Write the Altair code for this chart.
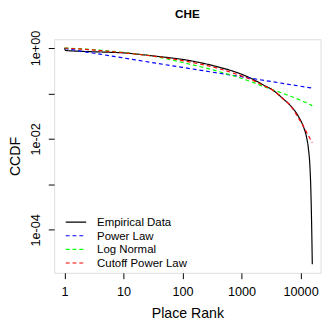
import altair as alt
import pandas as pd

series_names = ["Empirical Data", "Power Law", "Log Normal", "Cutoff Power Law"]
series_colors = ["#000000", "#0000FF", "#00FF00", "#FF0000"]

emp_x = [1, 1.04, 1.7, 3.65, 9.8, 35.8, 112, 351, 982, 1610, 2355, 3445, 5040, 6830, 9270, 11220, 12570, 13560, 14350, 14920, 15380, 15790]
emp_y = [1.0, 0.884, 0.850, 0.821, 0.782, 0.658, 0.548, 0.401, 0.267, 0.201, 0.153, 0.1166, 0.0766, 0.0529, 0.0307, 0.0183, 0.01115, 0.00616, 0.00266, 0.000773, 0.000137, 0.0000175]

pl_x = [1, 10, 100, 1000, 10000, 15790]
pl_y = [0.976, 0.604, 0.374, 0.233, 0.144, 0.131]

ln_x = [1, 3.65, 9.8, 35.8, 112, 351, 982, 1610, 2355, 3720, 6830, 11640, 15790]
ln_y = [1.0, 0.906, 0.80, 0.641, 0.465, 0.321, 0.216, 0.173, 0.142, 0.1154, 0.0866, 0.0651, 0.0537]

cpl_x = [1, 9.8, 112, 351, 982, 1610, 2355, 3445, 5040, 6830, 9270, 11220, 13060, 14620, 15790]
cpl_y = [1.0, 0.789, 0.513, 0.372, 0.245, 0.191, 0.149, 0.1166, 0.0766, 0.0529, 0.0285, 0.01874, 0.01294, 0.00986, 0.00828]

x_ticks = [1, 10, 100, 1000, 10000]
y_ticks = [1, 0.1, 0.01, 0.001, 0.0001]

rows = []
for name, xs, ys in zip(series_names, [emp_x, pl_x, ln_x, cpl_x], [emp_y, pl_y, ln_y, cpl_y]):
    for xv, yv in zip(xs, ys):
        rows.append({"series": name, "x": xv, "y": yv})
df = pd.DataFrame(rows)

FONT = "Liberation Sans"
W, H = 273.2, 239.5

chart = alt.Chart(df).mark_line(strokeWidth=1.2, clip=True, interpolate="monotone").encode(
    x=alt.X("x:Q", scale=alt.Scale(type="log", domain=[10 ** -0.177, 10 ** 4.339], nice=False),
            axis=alt.Axis(values=x_ticks, format="d", title="Place Rank", grid=False, domain=False,
                          tickSize=6, tickColor="black", labelPadding=7.5, labelFontSize=13, labelFont=FONT,
                          labelColor="black", titleFont=FONT, titleFontSize=14.5, titleFontWeight="normal",
                          titleColor="black", titleBaseline="alphabetic", titleY=45.5, titleX=W / 2,
                          labelOverlap=False, labelFlush=False)),
    y=alt.Y("y:Q", scale=alt.Scale(type="log", domain=[10 ** -4.946, 10 ** 0.193], nice=False),
            axis=alt.Axis(values=y_ticks, title="CCDF", grid=False, domain=False,
                          labelExpr="datum.value > 0.5 ? '1e+00' : (abs(datum.value - 0.01) < 1e-6 ? '1e-02' : (abs(datum.value - 0.0001) < 1e-8 ? '1e-04' : ''))",
                          tickSize=6, tickColor="black", labelPadding=6, labelFontSize=13, labelFont=FONT,
                          labelColor="black", labelAngle=-90, labelAlign="center", labelBaseline="bottom",
                          titleFont=FONT, titleFontSize=14.5, titleFontWeight="normal", titleColor="black",
                          titleBaseline="alphabetic", titleX=-35.5, titleY=H / 2,
                          labelOverlap=False, labelFlush=False)),
    color=alt.Color("series:N", scale=alt.Scale(domain=series_names, range=series_colors),
                    legend=alt.Legend(orient="none", legendX=16.5, legendY=181.6, title=None,
                                      symbolType="M-2.5,0H2.5", symbolSize=70.6, symbolStrokeWidth=1.2,
                                      labelFont=FONT, labelFontSize=11.7, labelColor="black",
                                      labelOffset=15.8, rowPadding=1.0, padding=0)),
    strokeDash=alt.StrokeDash("series:N", scale=alt.Scale(domain=series_names,
                                                          range=[[1, 0], [4, 3], [4, 3], [4, 3]])),
    order=alt.Order("x:Q"),
).properties(
    width=W, height=H,
    title=alt.TitleParams("CHE", font=FONT, fontSize=12, fontWeight="bold", color="black",
                          anchor="middle", baseline="alphabetic", offset=0, frame="group"),
    autosize=alt.AutoSizeParams(type="none"),
    padding={"left": 47.3, "top": 28, "right": 3.5, "bottom": 50.5},
).configure_view(stroke="black", strokeWidth=1).configure(background="white")

chart.save("out.html", embed_options={"renderer": "svg", "actions": False})
